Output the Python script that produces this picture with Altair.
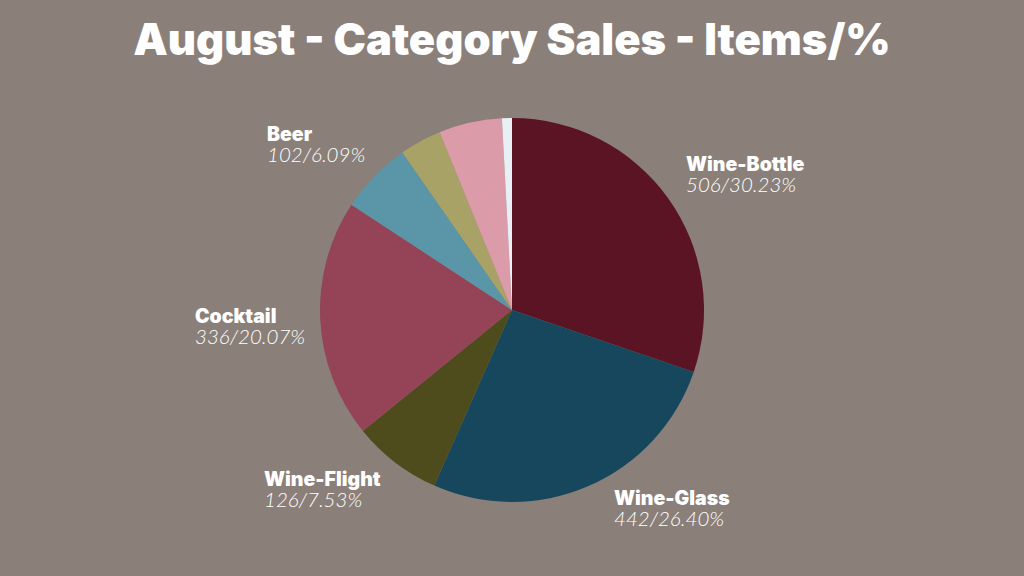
import altair as alt
import pandas as pd

categories = ["Wine-Bottle", "Wine-Glass", "Wine-Flight", "Cocktail", "Beer",
              "Other-A", "Other-B", "Other-C"]
items = [506, 442, 126, 336, 102, 59, 89, 14]
percents = ["30.23%", "26.40%", "7.53%", "20.07%", "6.09%", "", "", ""]
colors = ["#5a1424", "#17475c", "#4e4c1d", "#944456", "#5a96a8",
          "#a8a267", "#dc9ba9", "#e8f0f5"]

# label anchor positions (annotation placement, left edge / name baseline)
label_cats = ["Wine-Bottle", "Wine-Glass", "Wine-Flight", "Cocktail", "Beer"]
label_x = [686, 614, 264, 195, 267]
label_y = [171, 505, 486, 323, 141]

df = pd.DataFrame({
    "category": categories,
    "items": items,
    "idx": list(range(len(categories))),
})

lab = pd.DataFrame({
    "category": label_cats,
    "lx": label_x,
    "ly": label_y,
})
lab["num"] = [f"{items[categories.index(c)]}/{percents[categories.index(c)]}" for c in label_cats]
lab["ly2"] = lab["ly"] + 21

W, H = 1024, 576

pie = alt.Chart(df).mark_arc(outerRadius=192, stroke=None).encode(
    theta=alt.Theta("items:Q", stack=True),
    color=alt.Color("category:N", scale=alt.Scale(domain=categories, range=colors), legend=None),
    order=alt.Order("idx:Q"),
    x=alt.value(512),
    y=alt.value(310),
)

xs = alt.X("lx:Q", scale=alt.Scale(domain=[0, W], range=[0, W]), axis=None)

names = alt.Chart(lab).mark_text(
    align="left", baseline="alphabetic", font="Inter", fontWeight=900,
    fontSize=19.5, color="white"
).encode(
    x=xs,
    y=alt.Y("ly:Q", scale=alt.Scale(domain=[0, H], range=[0, H]), axis=None),
    text="category:N",
)

nums = alt.Chart(lab).mark_text(
    align="left", baseline="alphabetic", font="Lato", fontWeight=300,
    fontStyle="italic", fontSize=20.5, color="white"
).encode(
    x=xs,
    y=alt.Y("ly2:Q", scale=alt.Scale(domain=[0, H], range=[0, H]), axis=None),
    text="num:N",
)

title = alt.Chart(pd.DataFrame({"t": ["August - Category Sales - Items/%"]})).mark_text(
    align="center", baseline="alphabetic", font="Inter", fontWeight=900,
    fontSize=43.5, color="white"
).encode(
    x=alt.value(512),
    y=alt.value(55),
    text="t:N",
)

chart = alt.layer(pie, names, nums, title).properties(
    width=W, height=H, padding=0, autosize=alt.AutoSizeParams(type="none"),
    background="#8a7f79",
).configure_view(stroke=None)

chart.save("out.html", embed_options={"renderer": "svg", "actions": False})
